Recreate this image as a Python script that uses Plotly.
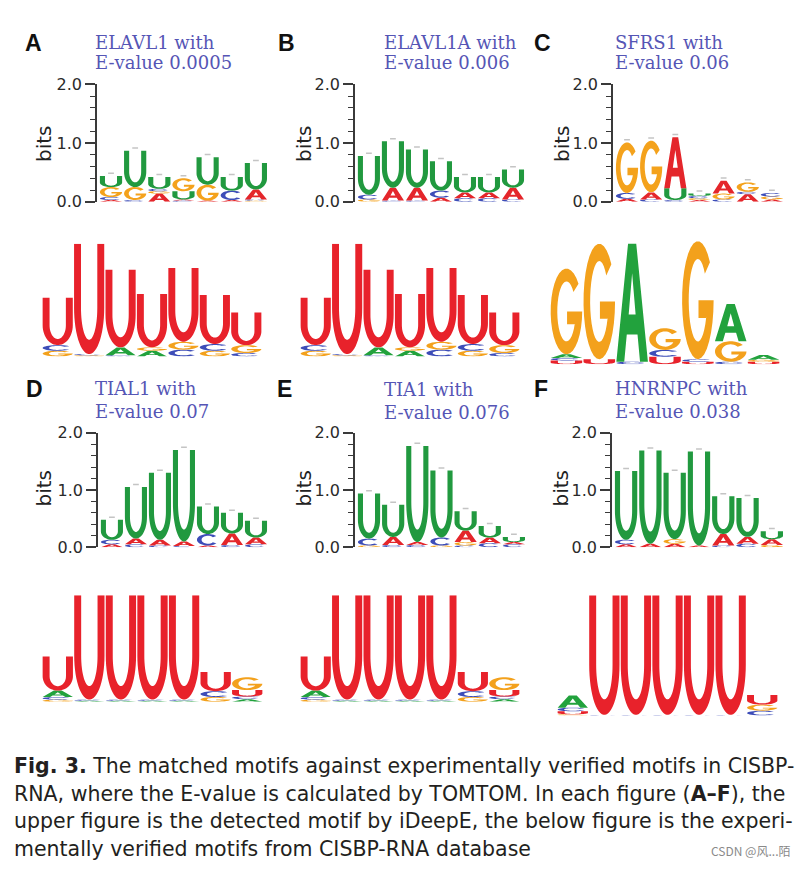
import plotly.graph_objects as go
import numpy as np

W, H = 804, 886

# ---------------- data ----------------
# Upper logos: motifs detected by iDeepE; each position is a stack (bottom -> top) of (base, bits)
ELAVL1_detected = [
    [("A", 0.03), ("C", 0.05), ("G", 0.17), ("U", 0.19)],
    [("C", 0.03), ("G", 0.22), ("U", 0.62)],
    [("A", 0.14), ("G", 0.04), ("C", 0.04), ("U", 0.20)],
    [("C", 0.02), ("A", 0.02), ("U", 0.14), ("G", 0.22)],
    [("A", 0.02), ("G", 0.27), ("U", 0.47)],
    [("A", 0.03), ("C", 0.16), ("U", 0.23)],
    [("G", 0.02), ("C", 0.02), ("A", 0.17), ("U", 0.45)],
]
ELAVL1A_detected = [
    [("G", 0.04), ("C", 0.08), ("U", 0.66)],
    [("C", 0.02), ("A", 0.22), ("U", 0.79)],
    [("C", 0.02), ("A", 0.22), ("U", 0.65)],
    [("A", 0.07), ("C", 0.12), ("U", 0.50)],
    [("C", 0.06), ("A", 0.10), ("U", 0.26)],
    [("C", 0.06), ("A", 0.10), ("U", 0.26)],
    [("C", 0.04), ("A", 0.20), ("U", 0.31)],
]
SFRS1_detected = [
    [("A", 0.05), ("C", 0.10), ("G", 0.86)],
    [("C", 0.04), ("A", 0.12), ("G", 0.88)],
    [("C", 0.03), ("U", 0.20), ("A", 0.87)],
    [("A", 0.03), ("G", 0.03), ("C", 0.04), ("U", 0.04)],
    [("C", 0.04), ("G", 0.10), ("A", 0.22)],
    [("A", 0.13), ("C", 0.04), ("G", 0.16)],
    [("A", 0.04), ("G", 0.05), ("C", 0.06)],
]
TIAL1_detected = [
    [("A", 0.05), ("C", 0.08), ("U", 0.35)],
    [("C", 0.05), ("A", 0.10), ("U", 0.90)],
    [("C", 0.03), ("A", 0.10), ("U", 1.17)],
    [("C", 0.02), ("A", 0.08), ("U", 1.60)],
    [("A", 0.03), ("C", 0.20), ("U", 0.48)],
    [("C", 0.04), ("A", 0.20), ("U", 0.36)],
    [("C", 0.05), ("A", 0.12), ("U", 0.29)],
]
TIA1_detected = [
    [("G", 0.03), ("C", 0.12), ("U", 0.79)],
    [("C", 0.04), ("A", 0.14), ("U", 0.56)],
    [("C", 0.04), ("A", 0.05), ("U", 1.68)],
    [("G", 0.03), ("C", 0.14), ("U", 1.17)],
    [("C", 0.03), ("G", 0.06), ("A", 0.20), ("U", 0.34)],
    [("C", 0.07), ("A", 0.10), ("U", 0.20)],
    [("C", 0.05), ("A", 0.04), ("U", 0.09)],
]
HNRNPC_detected = [
    [("A", 0.05), ("C", 0.08), ("U", 1.20)],
    [("A", 0.06), ("U", 1.63)],
    [("A", 0.06), ("G", 0.08), ("U", 1.16)],
    [("A", 0.03), ("U", 1.64)],
    [("C", 0.03), ("A", 0.20), ("U", 0.66)],
    [("C", 0.06), ("A", 0.12), ("U", 0.68)],
    [("G", 0.04), ("A", 0.10), ("U", 0.14)],
]

# Lower logos: experimentally verified motifs from CISBP-RNA
ELAVL1_known = [
    [("G", 0.10), ("C", 0.10), ("U", 0.84)],
    [("G", 0.02), ("C", 0.02), ("U", 1.96)],
    [("C", 0.02), ("A", 0.14), ("U", 1.38)],
    [("A", 0.10), ("G", 0.06), ("U", 0.95)],
    [("C", 0.12), ("G", 0.14), ("U", 1.31)],
    [("G", 0.10), ("C", 0.12), ("U", 0.87)],
    [("C", 0.06), ("G", 0.14), ("U", 0.58)],
]
ELAVL1A_known = [
    [("G", 0.10), ("C", 0.10), ("U", 0.84)],
    [("G", 0.02), ("C", 0.02), ("U", 1.96)],
    [("C", 0.02), ("A", 0.14), ("U", 1.38)],
    [("A", 0.10), ("G", 0.06), ("U", 0.95)],
    [("C", 0.12), ("G", 0.14), ("U", 1.31)],
    [("G", 0.10), ("C", 0.12), ("U", 0.87)],
    [("C", 0.06), ("G", 0.14), ("U", 0.58)],
]
SFRS1_known = [
    [("U", 0.06), ("C", 0.04), ("A", 0.06), ("G", 1.38)],
    [("U", 0.08), ("G", 1.86)],
    [("C", 0.04), ("A", 1.90)],
    [("U", 0.12), ("C", 0.11), ("G", 0.35)],
    [("U", 0.04), ("C", 0.04), ("G", 1.90)],
    [("C", 0.04), ("G", 0.33), ("A", 0.60)],
    [("U", 0.04), ("G", 0.03), ("A", 0.08)],
]
TIAL1_known = [
    [("G", 0.04), ("C", 0.05), ("A", 0.12), ("U", 0.64)],
    [("A", 0.02), ("C", 0.02), ("U", 1.96)],
    [("A", 0.02), ("C", 0.02), ("U", 1.96)],
    [("A", 0.02), ("C", 0.02), ("U", 1.96)],
    [("A", 0.02), ("C", 0.02), ("U", 1.96)],
    [("G", 0.09), ("C", 0.11), ("U", 0.36)],
    [("A", 0.05), ("C", 0.05), ("U", 0.12), ("G", 0.24)],
]
TIA1_known = [
    [("G", 0.04), ("C", 0.05), ("A", 0.12), ("U", 0.64)],
    [("A", 0.02), ("C", 0.02), ("U", 1.96)],
    [("A", 0.02), ("C", 0.02), ("U", 1.96)],
    [("A", 0.02), ("C", 0.02), ("U", 1.96)],
    [("A", 0.02), ("C", 0.02), ("U", 1.96)],
    [("G", 0.09), ("C", 0.11), ("U", 0.36)],
    [("A", 0.05), ("C", 0.05), ("U", 0.12), ("G", 0.24)],
]
HNRNPC_known = [
    [("G", 0.02), ("U", 0.05), ("C", 0.06), ("A", 0.20)],
    [("C", 0.01), ("U", 1.97)],
    [("C", 0.01), ("U", 1.97)],
    [("C", 0.01), ("U", 1.97)],
    [("C", 0.01), ("U", 1.97)],
    [("C", 0.01), ("U", 1.97)],
    [("C", 0.08), ("G", 0.10), ("U", 0.16)],
]

panel_labels = ["A", "B", "C", "D", "E", "F"]
rbp_names = ["ELAVL1", "ELAVL1A", "SFRS1", "TIAL1", "TIA1", "HNRNPC"]
e_values = ["0.0005", "0.006", "0.06", "0.07", "0.076", "0.038"]
detected = [ELAVL1_detected, ELAVL1A_detected, SFRS1_detected,
            TIAL1_detected, TIA1_detected, HNRNPC_detected]
known = [ELAVL1_known, ELAVL1A_known, SFRS1_known,
         TIAL1_known, TIA1_known, HNRNPC_known]
bit_ticks = [0.0, 1.0, 2.0]
bit_tick_labels = ["0.0", "1.0", "2.0"]
bit_minor_ticks = [0.2, 0.4, 0.6, 0.8, 1.2, 1.4, 1.6, 1.8]

caption_lines = [
    "<b>Fig. 3.</b> The matched motifs against experimentally verified motifs in CISBP-",
    "RNA, where the E-value is calculated by TOMTOM. In each figure (<b>A–F</b>), the",
    "upper figure is the detected motif by iDeepE, the below figure is the experi-",
    "mentally verified motifs from CISBP-RNA database",
]
watermark = "CSDN @风...陌"

# ---------------- styling / layout (pixels) ----------------
UPPER_COLORS = {"A": "#E4262B", "C": "#3D4DB8", "G": "#F4A21C", "U": "#21993F"}
LOWER_COLORS = {"A": "#22A23D", "C": "#3D4DB8", "G": "#F3A11C", "U": "#E8222B"}
AXC = "#3a3a3a"

upper_geom = [  # (x_left, x_right), (y_top(2 bits), y_bottom(0 bits))
    ((97, 268), (77, 197)), ((355, 525), (77, 197)), ((613, 784), (77, 197)),
    ((98, 268), (433, 550)), ((355, 526), (433, 550)), ((612, 784), (433, 550)),
]
lower_geom = [
    ((42, 262), (240, 355)), ((300, 520), (240, 355)), ((550, 780), (236, 363)),
    ((42, 263), (599, 708)), ((300, 520), (599, 708)), ((557, 778), (598, 722)),
]
label_pos = [(33, 35), (286, 35), (542, 35), (34, 388), (284, 388), (541, 388)]
title_pos = [(93, 34, 55), (382, 34, 55), (613, 34, 55),
             (93, 388, 411), (382, 389, 412), (613, 388, 411)]
bits_pos = [(44, 138), (304, 138), (562, 138), (44, 490), (304, 490), (561, 490)]


def arc(cx, cy, rx, ry, a0, a1, n=30):
    t = np.radians(np.linspace(a0, a1, n))
    return list(zip(cx + rx * np.cos(t), cy + ry * np.sin(t)))


def glyph(base):
    if base == "U":
        sw, r, t = 0.23, 0.42, 0.13
        pts = ([(0, 1), (0, r)] + arc(0.5, r, 0.5, r, 180, 360)
               + [(1, 1), (1 - sw, 1), (1 - sw, r)]
               + arc(0.5, r, 0.5 - sw, r - t, 360, 180) + [(sw, r), (sw, 1)])
        return [pts]
    if base == "A":
        outer = [(0, 0), (0.37, 1), (0.63, 1), (1, 0), (0.75, 0),
                 (0.67, 0.23), (0.33, 0.23), (0.25, 0)]
        hole = [(0.39, 0.40), (0.61, 0.40), (0.5, 0.75)]
        return [outer, hole]
    if base == "C":
        sw, t = 0.21, 0.15
        return [arc(0.5, 0.5, 0.5, 0.5, 40, 320)
                + arc(0.5, 0.5, 0.5 - sw, 0.5 - t, 320, 40)]
    # G
    sw, t = 0.21, 0.15
    pts = (arc(0.5, 0.5, 0.5, 0.5, 40, 360)
           + [(0.52, 0.5), (0.52, 0.35), (0.79, 0.35)]
           + arc(0.5, 0.5, 0.5 - sw, 0.5 - t, 335, 40))
    return [pts]


def glyph_path(base, x0, x1, y0, y1):
    parts = []
    for poly in glyph(base):
        pts = ["%.4f,%.4f" % (x0 + u * (x1 - x0), y0 + v * (y1 - y0)) for u, v in poly]
        parts.append("M" + "L".join(pts) + "Z")
    return "".join(parts)


fig = go.Figure()
shapes = []
annotations = []
layout_axes = {}


def px_x(p):
    return p / W


def px_y(p):
    return 1 - p / H


def add_logo(k, stacks, colors, xg, yg, xrange, halfw, axis_visible):
    xname = "xaxis" if k == 1 else "xaxis%d" % k
    yname = "yaxis" if k == 1 else "yaxis%d" % k
    xr = "x" if k == 1 else "x%d" % k
    yr = "y" if k == 1 else "y%d" % k
    layout_axes[xname] = dict(domain=[px_x(xg[0]), px_x(xg[1])], range=xrange,
                              visible=False, anchor=yr, fixedrange=True)
    ya = dict(domain=[px_y(yg[1]), px_y(yg[0])], range=[0, 2], anchor=xr,
              fixedrange=True, showgrid=False, zeroline=False)
    if axis_visible:
        ya.update(showline=True, linecolor=AXC, linewidth=1.6, ticks="outside",
                  ticklen=10, tickwidth=1.6, tickcolor=AXC, tickmode="array",
                  tickvals=bit_ticks, ticktext=bit_tick_labels,
                  tickfont=dict(family="DejaVu Sans", size=16, color="#2a2a2a"),
                  minor=dict(tickmode="array", tickvals=bit_minor_ticks,
                             ticks="outside", ticklen=5, tickwidth=1.2,
                             tickcolor=AXC, showgrid=False))
    else:
        ya.update(visible=False)
    layout_axes[yname] = ya

    ex, ey = [], []
    for i, stack in enumerate(stacks, start=1):
        base_y = 0.0
        for base, h in stack:
            shapes.append(dict(type="path", xref=xr, yref=yr,
                               path=glyph_path(base, i - halfw, i + halfw, base_y, base_y + h),
                               fillcolor=colors[base], line=dict(width=0),
                               layer="above"))
            base_y += h
        if axis_visible:
            ex += [i - 0.12, i + 0.12, None]
            ey += [base_y + 0.045, base_y + 0.045, None]
    if axis_visible:
        fig.add_trace(go.Scatter(x=ex, y=ey, mode="lines",
                                 line=dict(color="#c4c4c4", width=1.5),
                                 xaxis=xr, yaxis=yr, hoverinfo="skip",
                                 showlegend=False))
    else:
        fig.add_trace(go.Scatter(x=[1], y=[0], mode="markers",
                                 marker=dict(opacity=0), xaxis=xr, yaxis=yr,
                                 hoverinfo="skip", showlegend=False))


for p in range(6):
    add_logo(2 * p + 1, detected[p], UPPER_COLORS, upper_geom[p][0],
             upper_geom[p][1], [0.42, 7.5], 0.46, True)
    add_logo(2 * p + 2, known[p], LOWER_COLORS, lower_geom[p][0],
             lower_geom[p][1], [0.5, 7.5], 0.48, False)

    lx, ly = label_pos[p]
    annotations.append(dict(text="<b>%s</b>" % panel_labels[p], x=px_x(lx), y=px_y(ly),
                            xref="paper", yref="paper", showarrow=False,
                            xanchor="center", yanchor="middle",
                            font=dict(family="Liberation Sans", size=23, color="#111111")))
    tx, ty1, ty2 = title_pos[p]
    annotations.append(dict(text="%s with" % rbp_names[p], x=px_x(tx), y=px_y(ty1),
                            xref="paper", yref="paper", showarrow=False,
                            xanchor="left", yanchor="middle",
                            font=dict(family="DejaVu Serif", size=18, color="#5555B5")))
    annotations.append(dict(text="E-value %s" % e_values[p], x=px_x(tx), y=px_y(ty2),
                            xref="paper", yref="paper", showarrow=False,
                            xanchor="left", yanchor="middle",
                            font=dict(family="DejaVu Serif", size=18, color="#5555B5")))
    bx, by = bits_pos[p]
    annotations.append(dict(text="bits", x=px_x(bx), y=px_y(by), textangle=-90,
                            xref="paper", yref="paper", showarrow=False,
                            xanchor="center", yanchor="middle",
                            font=dict(family="DejaVu Sans", size=20, color="#222222")))

cap_y = [774, 802, 830, 858]
for line, yy in zip(caption_lines, cap_y):
    annotations.append(dict(text=line, x=px_x(12), y=px_y(yy), xref="paper",
                            yref="paper", showarrow=False, xanchor="left",
                            yanchor="middle",
                            font=dict(family="DejaVu Sans", size=20.5, color="#231f20")))
annotations.append(dict(text=watermark, x=px_x(792), y=px_y(860), xref="paper",
                        yref="paper", showarrow=False, xanchor="right",
                        yanchor="middle",
                        font=dict(family="Noto Sans CJK SC", size=12, color="#8a8a8a")))

fig.update_layout(width=W, height=H, margin=dict(l=0, r=0, t=0, b=0),
                  paper_bgcolor="white", plot_bgcolor="rgba(0,0,0,0)",
                  showlegend=False, shapes=shapes, annotations=annotations,
                  **layout_axes)

fig.write_html("out.html")
